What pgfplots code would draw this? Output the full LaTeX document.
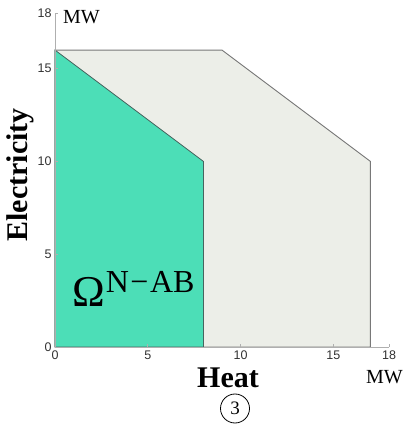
\documentclass[border=0pt]{standalone}
\usepackage{pgfplots}
\pgfplotsset{compat=1.18}
\usepackage{fontspec}
\setmainfont{Liberation Serif}
\newfontfamily\tickfont{Liberation Sans}
\definecolor{greenfill}{RGB}{76,222,183}
\definecolor{grayfill}{RGB}{236,238,232}
\definecolor{grayedge}{RGB}{120,120,120}
\definecolor{greenedge}{RGB}{70,100,95}
\definecolor{axisgray}{RGB}{175,175,175}
\definecolor{ticktext}{RGB}{50,50,50}
\begin{document}
\begin{tikzpicture}[x=1pt,y=1pt]
\useasboundingbox (0,0) rectangle (406,428);
\begin{axis}[
  at={(55pt,81pt)}, anchor=south west,
  scale only axis, width=334pt, height=334pt,
  xmin=0, xmax=18, ymin=0, ymax=18,
  axis lines*=left,
  axis line style={axisgray, line width=0.8pt},
  xtick={0,5,10,15,18}, ytick={0,5,10,15,18},
  tick align=inside, major tick length=3pt,
  tick style={axisgray, line width=0.6pt},
  ticklabel style={font=\tickfont\fontsize{12.5}{12.5}\selectfont, text=ticktext},
  /pgf/number format/assume math mode=true,
  axis on top,
  clip=false,
  xlabel={\bfseries\fontsize{30}{30}\selectfont Heat},
  ylabel={\bfseries\fontsize{30}{30}\selectfont Electricity},
  x label style={at={(axis description cs:0.518,-0.12)}, anchor=base, inner sep=0pt},
  y label style={at={(axis description cs:-0.105,0.515)}, anchor=center, rotate=0, inner sep=0pt},
]
\addplot[fill=grayfill, draw=grayedge, line width=0.9pt] coordinates {(0,0) (0,16) (9,16) (17,10) (17,0)} -- cycle;
\addplot[fill=greenfill, draw=greenedge, line width=0.8pt] coordinates {(0,0) (0,16) (8,10) (8,0)} -- cycle;
\end{axis}
\node[anchor=base west, inner sep=0pt] at (63,404.7) {\fontsize{20}{20}\selectfont MW};
\node[anchor=base west, inner sep=0pt] at (366,44.5) {\fontsize{20}{20}\selectfont MW};
\node[anchor=base west, inner sep=0pt] at (72,121) {\fontsize{44}{44}\selectfont Ω\hspace{1pt}\raisebox{14.6pt}{\fontsize{32}{32}\selectfont N\hspace{1.5pt}−\hspace{1.5pt}AB}};
\node[draw, circle, line width=0.8pt, minimum size=29pt, inner sep=0pt] at (235,19.5) {\fontsize{19}{19}\selectfont 3};
\end{tikzpicture}
\end{document}
